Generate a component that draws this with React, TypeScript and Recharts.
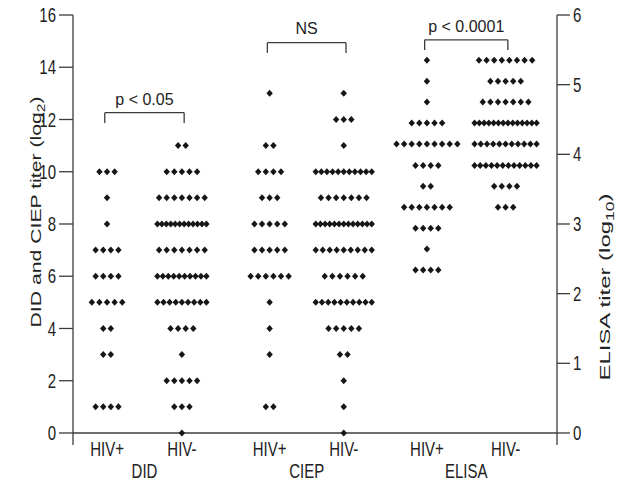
import { ScatterChart, Scatter, XAxis, YAxis, ReferenceLine } from 'recharts';

// log2 titer levels for DID, and how many sera sit on each level
const didLevels = [11, 10, 9, 8, 7, 6, 5, 4, 3, 2, 1, 0];
const didHivPos = [0, 3, 1, 1, 4, 4, 5, 2, 2, 0, 4, 0];
const didHivNeg = [2, 5, 7, 12, 7, 10, 9, 4, 1, 5, 3, 1];

// log2 titer levels for CIEP
const ciepLevels = [13, 12, 11, 10, 9, 8, 7, 6, 5, 4, 3, 2, 1, 0];
const ciepHivPos = [1, 0, 2, 4, 3, 5, 5, 6, 1, 1, 1, 0, 2, 0];
const ciepHivNeg = [1, 3, 1, 11, 7, 13, 9, 6, 10, 5, 2, 1, 1, 1];

// log10 titer levels for ELISA (right axis)
const elisaLevels = [5.35, 5.05, 4.75, 4.45, 4.15, 3.84, 3.54, 3.24, 2.94, 2.64, 2.34];
const elisaHivPos = [1, 1, 1, 5, 9, 4, 2, 7, 4, 1, 4];
const elisaHivNeg = [8, 5, 7, 14, 11, 12, 4, 3, 0, 0, 0];

const groupLabels = ['HIV+', 'HIV-', 'HIV+', 'HIV-', 'HIV+', 'HIV-'];
const assayLabels = ['DID', 'CIEP', 'ELISA'];
const pValues = ['p < 0.05', 'NS', 'p < 0.0001'];
const leftTicks = [0, 2, 4, 6, 8, 10, 12, 14, 16];
const rightTicks = [0, 1, 2, 3, 4, 5, 6];

// layout
const FONT = '"Liberation Sans", Arial, Helvetica, sans-serif';
const INK = '#161616';
const AXIS = '#3c3c3c';
const X_MAX = 6.4;
const PX_PER_X = (557 - 73) / X_MAX;
const groupX = [0.45, 1.44, 2.6, 3.58, 4.68, 5.72];
const rowCap = [49, 49, 56, 56, 62, 62];
const DOT_GAP = 7.6;
// bracket geometry per comparison, in left-axis units
const bracketTop = [12.26, 14.94, 15.05];
const bracketFoot = [11.87, 14.55, 14.66];
const labelBase = [12.56, 15.26, 15.36];

const stack = (levels: number[], counts: number[], g: number) => {
  const pts: { x: number; y: number }[] = [];
  levels.forEach((lv, r) => {
    const n = counts[r];
    if (!n) return;
    const gap = n > 1 ? Math.min(DOT_GAP, rowCap[g] / (n - 1)) : 0;
    for (let i = 0; i < n; i++) {
      pts.push({ x: groupX[g] + ((i - (n - 1) / 2) * gap) / PX_PER_X, y: lv });
    }
  });
  return pts;
};

const series = [
  { data: stack(didLevels, didHivPos, 0), axis: 'left' },
  { data: stack(didLevels, didHivNeg, 1), axis: 'left' },
  { data: stack(ciepLevels, ciepHivPos, 2), axis: 'left' },
  { data: stack(ciepLevels, ciepHivNeg, 3), axis: 'left' },
  { data: stack(elisaLevels, elisaHivPos, 4), axis: 'right' },
  { data: stack(elisaLevels, elisaHivNeg, 5), axis: 'right' },
];

const Diamond = (p: any) => {
  const { cx, cy } = p;
  if (cx == null || cy == null) return <g />;
  return <path d={`M${cx},${cy - 3.5}L${cx + 3.2},${cy}L${cx},${cy + 3.5}L${cx - 3.2},${cy}Z`} fill={INK} />;
};

const YTick = (p: any) => {
  const { x, y, payload, textAnchor } = p;
  return (
    <g transform={`translate(${x},${y})`}>
      <text transform="scale(1,1.3)" textAnchor={textAnchor} dy="0.36em" fontSize={15} fontFamily={FONT} fill="#222">
        {payload.value}
      </text>
    </g>
  );
};

const XTick = (p: any) => {
  const { x, y, payload } = p;
  const i = groupX.indexOf(payload.value);
  const midShift = i % 2 === 0 ? ((groupX[i + 1] - groupX[i]) / 2) * PX_PER_X : 0;
  return (
    <g>
      <g transform={`translate(${x},${y + 11})`}>
        <text transform="scale(1,1.3)" textAnchor="middle" fontSize={15} fontFamily={FONT} fill="#222">
          {groupLabels[i]}
        </text>
      </g>
      {i % 2 === 0 && (
        <g transform={`translate(${x + midShift},${y + 33})`}>
          <text transform="scale(1,1.3)" textAnchor="middle" fontSize={15} fontFamily={FONT} fill="#222">
            {assayLabels[i / 2]}
          </text>
        </g>
      )}
    </g>
  );
};

export default function App() {
  return (
    <div style={{ position: 'absolute', left: 0, top: 0, width: 617, height: 481, background: '#fff' }}>
      <ScatterChart width={617} height={481} margin={{ top: 15, right: 0, bottom: 0, left: 0 }}>
        <XAxis
          xAxisId="x"
          type="number"
          dataKey="x"
          domain={[0, X_MAX]}
          ticks={groupX}
          interval={0}
          allowDataOverflow
          axisLine={false}
          tickLine={false}
          tickSize={0}
          tickMargin={0}
          height={36}
          tick={XTick}
        />
        <YAxis
          yAxisId="left"
          type="number"
          dataKey="y"
          domain={[-0.46, 16]}
          ticks={leftTicks}
          interval={0}
          allowDataOverflow
          width={73}
          tickSize={14}
          tickMargin={3}
          axisLine={{ stroke: AXIS, strokeWidth: 1.3 }}
          tickLine={{ stroke: AXIS, strokeWidth: 1.3 }}
          tick={YTick}
        />
        <YAxis
          yAxisId="right"
          orientation="right"
          type="number"
          dataKey="y"
          domain={[-0.1725, 6]}
          ticks={rightTicks}
          interval={0}
          allowDataOverflow
          width={60}
          tickSize={13}
          tickMargin={3}
          axisLine={{ stroke: AXIS, strokeWidth: 1.3 }}
          tickLine={{ stroke: AXIS, strokeWidth: 1.3 }}
          tick={YTick}
        />
        <ReferenceLine xAxisId="x" yAxisId="left" y={0} stroke={AXIS} strokeWidth={1.3} />
        {pValues.map((_, k) => {
          const a = groupX[2 * k] - 0.03;
          const b = groupX[2 * k + 1] + 0.03;
          return [
            <ReferenceLine key={`l${k}`} xAxisId="x" yAxisId="left" stroke={AXIS} strokeWidth={1.3}
              segment={[{ x: a, y: bracketFoot[k] }, { x: a, y: bracketTop[k] }]} />,
            <ReferenceLine key={`t${k}`} xAxisId="x" yAxisId="left" stroke={AXIS} strokeWidth={1.3}
              segment={[{ x: a, y: bracketTop[k] }, { x: b, y: bracketTop[k] }]} />,
            <ReferenceLine key={`r${k}`} xAxisId="x" yAxisId="left" stroke={AXIS} strokeWidth={1.3}
              segment={[{ x: b, y: bracketTop[k] }, { x: b, y: bracketFoot[k] }]} />,
          ];
        })}
        {series.map((s, k) => (
          <Scatter key={k} xAxisId="x" yAxisId={s.axis} data={s.data} shape={Diamond} isAnimationActive={false} />
        ))}
        {pValues.map((txt, k) => (
          <Scatter
            key={`p${k}`}
            xAxisId="x"
            yAxisId="left"
            data={[{ x: (groupX[2 * k] + groupX[2 * k + 1]) / 2, y: labelBase[k] }]}
            isAnimationActive={false}
            shape={(p: any) => (
              <text x={p.cx} y={p.cy} textAnchor="middle" fontSize={16} fontFamily={FONT} fill="#222">
                {txt}
              </text>
            )}
          />
        ))}
      </ScatterChart>
      <svg width={617} height={481} style={{ position: 'absolute', left: 0, top: 0, pointerEvents: 'none' }}>
        <text
          transform="translate(36,212) rotate(-90)"
          textAnchor="middle"
          dy="0.35em"
          fontSize={15}
          fontFamily={FONT}
          fill="#222"
          textLength={231}
          lengthAdjust="spacingAndGlyphs"
        >
          DID and CIEP titer (log<tspan dy="4" fontSize="11">2</tspan><tspan dy="-4">)</tspan>
        </text>
        <text
          transform="translate(605,287) rotate(-90)"
          textAnchor="middle"
          dy="0.35em"
          fontSize={15}
          fontFamily={FONT}
          fill="#222"
          textLength={187}
          lengthAdjust="spacingAndGlyphs"
        >
          ELISA titer (log<tspan dy="4" fontSize="11">10</tspan><tspan dy="-4">)</tspan>
        </text>
      </svg>
    </div>
  );
}
